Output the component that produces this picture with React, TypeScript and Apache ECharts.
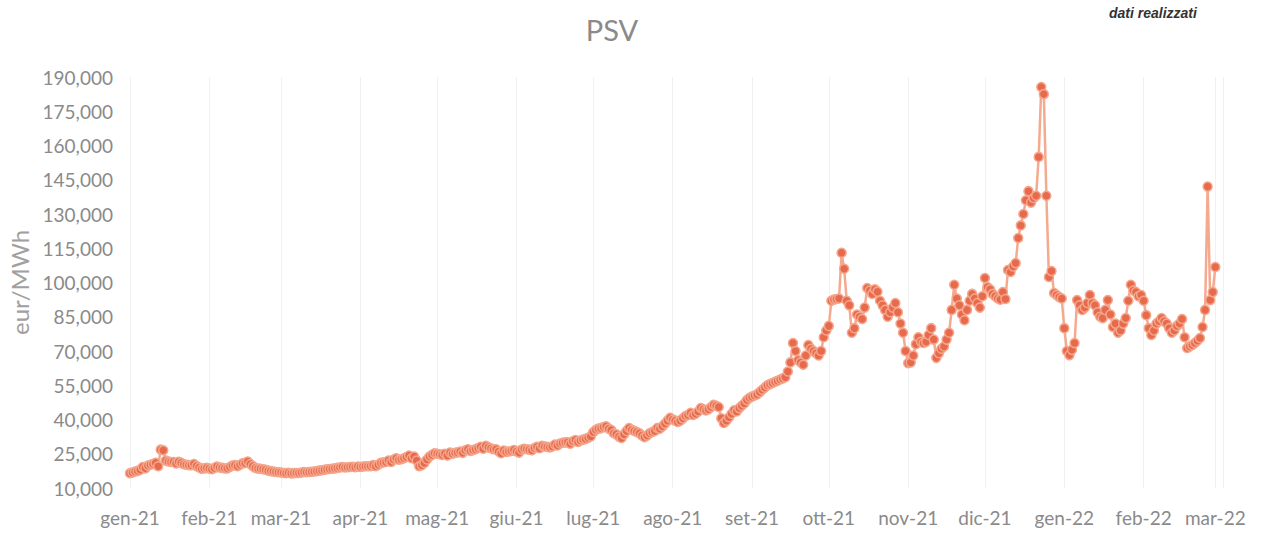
import { useEffect, useRef } from 'react';
import * as echarts from 'echarts';

// Italian month abbreviations for x-axis tick labels
const MONTH_LABELS = ['gen', 'feb', 'mar', 'apr', 'mag', 'giu', 'lug', 'ago', 'set', 'ott', 'nov', 'dic'];

// Daily PSV prices (eur/MWh), one value per calendar day
const jan21 = [16.5, 16.8, 17.2, 17.5, 18.0, 19.2, 18.6, 19.8, 20.2, 20.5, 21.0, 19.5, 26.8, 26.5, 22.0, 21.6, 21.4, 21.4, 20.8, 21.5, 21.0, 20.4, 20.2, 20.0, 20.0, 20.5, 19.6, 19.0, 18.4, 18.6, 18.8];
const feb21 = [18.5, 18.2, 18.8, 19.4, 19.0, 18.8, 18.6, 18.6, 19.2, 19.8, 20.0, 19.5, 20.2, 20.8, 21.0, 21.6, 20.5, 19.6, 18.8, 18.5, 18.4, 18.2, 18.0, 17.6, 17.4, 17.2, 17.0, 16.9];
const mar21 = [16.8, 16.6, 16.5, 16.7, 16.4, 16.5, 16.6, 16.6, 16.8, 17.0, 16.9, 17.0, 17.1, 17.2, 17.4, 17.6, 17.8, 18.0, 18.2, 18.3, 18.4, 18.6, 18.8, 19.0, 19.2, 19.0, 19.1, 19.2, 19.3, 19.1, 19.4];
const apr21 = [19.2, 19.4, 19.5, 19.5, 19.6, 20.0, 19.5, 20.2, 21.0, 21.2, 21.4, 22.0, 21.4, 22.5, 23.0, 22.4, 22.6, 23.0, 23.6, 24.2, 23.0, 23.8, 22.0, 19.5, 20.0, 21.0, 22.5, 23.8, 24.5, 25.2];
const may21 = [25.0, 24.8, 24.5, 25.0, 24.2, 25.5, 25.0, 25.4, 25.6, 26.0, 25.4, 26.5, 27.0, 26.2, 26.6, 27.0, 27.5, 28.0, 27.2, 28.5, 27.8, 27.4, 27.0, 27.0, 26.0, 25.2, 26.4, 25.8, 26.0, 26.2, 26.6];
const jun21 = [26.0, 25.5, 26.8, 27.2, 27.0, 26.8, 26.5, 27.5, 28.0, 27.4, 28.5, 28.2, 28.0, 27.8, 28.2, 29.0, 28.6, 29.5, 29.8, 30.0, 30.0, 29.4, 30.5, 31.0, 30.2, 30.8, 31.2, 31.5, 32.0, 32.6];
const jul21 = [34.5, 35.5, 36.0, 36.2, 36.7, 37.0, 36.0, 35.4, 34.0, 33.5, 32.5, 31.9, 33.5, 35.0, 36.3, 35.5, 35.0, 34.5, 34.0, 33.0, 32.3, 33.0, 34.0, 34.5, 35.0, 36.3, 36.0, 37.0, 38.2, 39.5, 40.7];
const aug21 = [40.0, 39.5, 38.9, 39.5, 40.5, 41.5, 42.0, 42.9, 42.0, 42.5, 43.5, 45.0, 44.5, 44.0, 44.5, 45.5, 46.4, 46.0, 45.5, 40.5, 38.5, 39.5, 41.0, 42.5, 44.0, 43.5, 45.0, 46.0, 47.0, 48.5, 49.5];
const sep21 = [50.0, 50.5, 51.0, 52.0, 53.0, 54.0, 55.0, 55.5, 56.0, 56.5, 57.0, 57.5, 58.0, 58.5, 61.0, 65.0, 73.5, 70.0, 66.0, 65.0, 64.0, 68.0, 72.6, 71.0, 70.0, 69.0, 68.0, 70.0, 76.0, 79.0];
const oct21 = [81.0, 92.0, 92.5, 92.8, 93.0, 113.0, 106.0, 92.0, 90.0, 78.0, 80.0, 86.0, 85.0, 84.0, 89.0, 97.6, 96.5, 95.0, 97.0, 96.0, 92.0, 90.0, 88.0, 85.0, 87.0, 89.0, 91.0, 87.0, 82.0, 78.0, 70.0];
const nov21 = [64.7, 65.0, 68.0, 73.0, 76.0, 74.0, 73.5, 74.0, 77.0, 80.0, 75.0, 67.0, 69.0, 71.0, 72.0, 75.0, 78.0, 88.0, 99.0, 93.0, 90.0, 86.0, 83.5, 88.0, 92.0, 95.0, 93.0, 91.0, 89.0, 94.0];
const dec21 = [102.0, 98.0, 97.0, 95.0, 94.0, 93.0, 92.5, 95.8, 92.8, 105.5, 104.6, 107.0, 108.5, 119.5, 125.0, 130.0, 136.0, 140.0, 135.0, 137.0, 138.0, 155.0, 185.6, 182.5, 138.0, 102.4, 105.0, 95.4, 94.5, 93.6, 93.0];
const jan22 = [80.0, 70.0, 68.2, 70.5, 73.5, 92.3, 90.0, 88.0, 89.0, 91.0, 94.5, 91.0, 90.0, 87.0, 85.0, 84.4, 88.0, 92.3, 86.0, 80.5, 82.0, 78.0, 79.0, 82.0, 84.4, 92.0, 99.0, 96.5, 95.8, 94.0, 94.5];
const feb22 = [92.0, 85.7, 80.0, 77.0, 79.0, 82.0, 83.0, 84.4, 83.0, 82.0, 80.0, 78.0, 79.0, 81.0, 82.0, 84.0, 76.0, 71.3, 72.0, 72.6, 73.5, 74.5, 75.7, 80.5, 88.0, 142.0, 92.3, 95.8];
const mar22 = [106.8];

const MONTH_SERIES = [
  { year: 2021, month: 0, values: jan21 },
  { year: 2021, month: 1, values: feb21 },
  { year: 2021, month: 2, values: mar21 },
  { year: 2021, month: 3, values: apr21 },
  { year: 2021, month: 4, values: may21 },
  { year: 2021, month: 5, values: jun21 },
  { year: 2021, month: 6, values: jul21 },
  { year: 2021, month: 7, values: aug21 },
  { year: 2021, month: 8, values: sep21 },
  { year: 2021, month: 9, values: oct21 },
  { year: 2021, month: 10, values: nov21 },
  { year: 2021, month: 11, values: dec21 },
  { year: 2022, month: 0, values: jan22 },
  { year: 2022, month: 1, values: feb22 },
  { year: 2022, month: 2, values: mar22 },
];

const Y_MIN = 10;
const Y_MAX = 190;
const Y_LABEL_STEP = 15;

export default function App() {
  const ref = useRef<HTMLDivElement>(null);

  useEffect(() => {
    document.body.style.margin = '0';
    const chart = echarts.init(ref.current as HTMLDivElement, null, { renderer: 'svg' });
    const data = MONTH_SERIES.flatMap(({ year, month, values }) =>
      values.map((v, i) => [new Date(year, month, i + 1).getTime(), v])
    );
    const gray = '#8a8a8a';
    chart.setOption({
      animation: false,
      backgroundColor: '#ffffff',
      textStyle: { fontFamily: 'Lato' },
      graphic: [
        {
          type: 'text',
          x: 612,
          y: 29,
          style: { text: 'PSV', fill: gray, fontSize: 29, fontFamily: 'Lato', align: 'center', verticalAlign: 'middle' },
        },
        {
          type: 'text',
          x: 1109,
          y: 13,
          style: { text: 'dati realizzati', fill: '#333333', fontSize: 14, fontWeight: 'bold', fontStyle: 'italic', fontFamily: 'Liberation Sans', align: 'left', verticalAlign: 'middle' },
        },
      ],
      grid: { left: 130, right: 38, top: 77, bottom: 45, outerBoundsMode: 'none' },
      xAxis: {
        type: 'time',
        min: new Date(2021, 0, 1).getTime(),
        max: new Date(2022, 2, 4).getTime(),
        splitNumber: 14,
        minInterval: 28 * 86400000,
        maxInterval: 31 * 86400000,
        axisLine: { show: false },
        axisTick: { show: false },
        splitLine: { show: true, lineStyle: { color: '#f1f1f1', width: 1 } },
        axisLabel: {
          color: gray,
          fontSize: 19,
          fontFamily: 'Lato',
          margin: 20,
          formatter: (val: number) => {
            const d = new Date(val);
            return MONTH_LABELS[d.getMonth()] + '-' + String(d.getFullYear()).slice(2);
          },
        },
      },
      yAxis: {
        type: 'value',
        min: Y_MIN,
        max: Y_MAX,
        interval: 5,
        name: 'eur/MWh',
        nameLocation: 'middle',
        nameRotate: 90,
        nameGap: 97,
        nameTextStyle: { color: '#a0a0a0', fontSize: 24, fontFamily: 'Lato' },
        axisLine: { show: false },
        axisTick: { show: false },
        splitLine: { show: false },
        axisLabel: {
          color: gray,
          fontSize: 19,
          fontFamily: 'Lato',
          margin: 17,
          formatter: (v: number) =>
            Math.round(v - Y_MIN) % Y_LABEL_STEP === 0 ? v.toFixed(3).replace('.', ',') : '',
        },
      },
      series: [
        {
          type: 'line',
          data,
          symbol: 'circle',
          symbolSize: 9,
          showAllSymbol: true,
          lineStyle: { color: '#f5a98f', width: 2.5 },
          itemStyle: { color: '#e86a4c', borderColor: '#f4a78d', borderWidth: 1.5 },
        },
      ],
    });
    return () => chart.dispose();
  }, []);

  return <div ref={ref} style={{ width: 1261, height: 533 }} />;
}
